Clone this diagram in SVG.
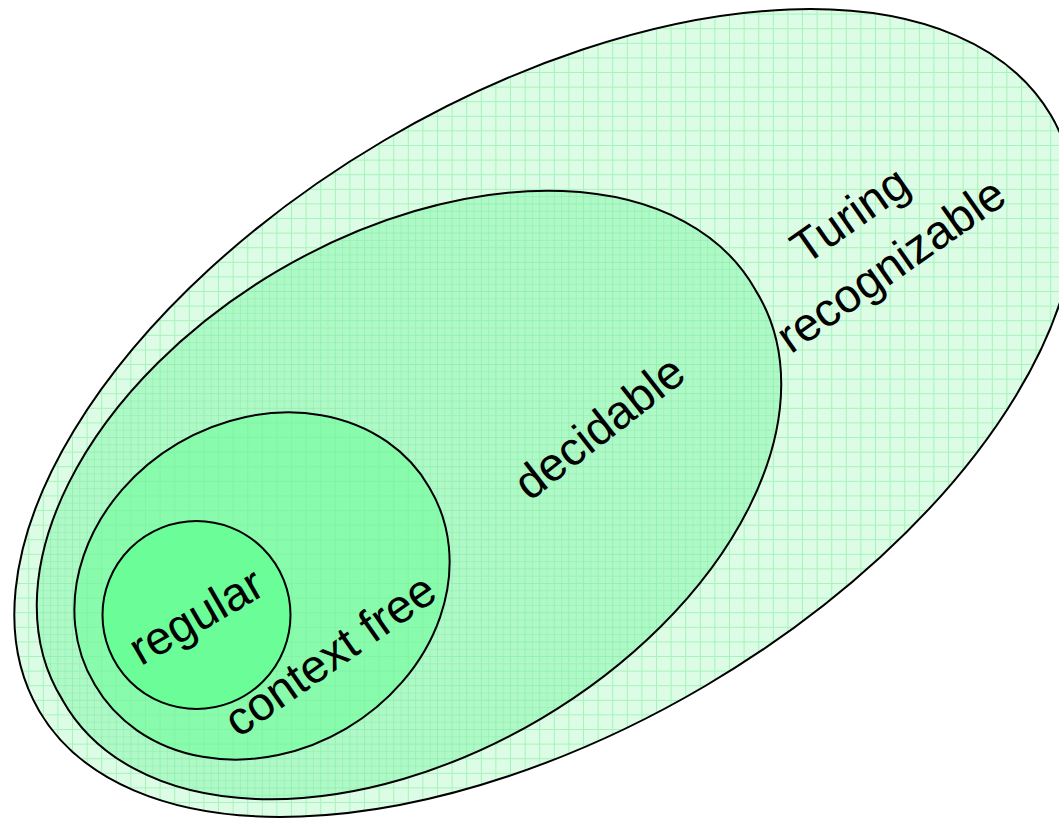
<svg xmlns="http://www.w3.org/2000/svg" width="1059" height="820" viewBox="0 0 1059 820">
  <style>
    .set { stroke: #000; stroke-width: 2; }
    .label { font-family: "Liberation Sans", Arial, sans-serif; font-size: 47px; fill: #000; text-anchor: middle; }
  </style>
  <defs>
    <!-- axis-aligned graph-paper texture -->
    <pattern id="grid" width="14.6" height="14.6" patternUnits="userSpaceOnUse">
      <path d="M14.1 0V14.6M0 14.1H14.6" stroke="#7fee9f" stroke-width="1" stroke-opacity="0.6" fill="none"/>
    </pattern>
    <pattern id="gridFine" width="14.6" height="14.6" patternUnits="userSpaceOnUse" patternTransform="translate(7.3 7.3)">
      <path d="M14.1 0V14.6M0 14.1H14.6" stroke="#7fee9f" stroke-width="1" stroke-opacity="0.45" fill="none"/>
    </pattern>
    <path id="outerShape" d="M39.2 710.9A587 316.5 -30.5 1 1 1050.8 115.1A587 316.5 -30.5 1 1 39.2 710.9Z"/>
    <path id="decShape" d="M62.5 699.9A402.6 255.7 -30.6 1 1 755.5 290.1A402.6 255.7 -30.6 1 1 62.5 699.9Z"/>
    <path id="cfShape" d="M94.7 684.6A194.2 164.3 -30.5 1 1 429.3 487.4A194.2 164.3 -30.5 1 1 94.7 684.6Z"/>
  </defs>

  <!-- Turing recognizable -->
  <g id="turing-recognizable">
    <use href="#outerShape" fill="#dcfce5"/>
    <use href="#outerShape" fill="url(#grid)" class="set"/>
    <text class="label" transform="translate(859 228) rotate(-35)">Turing</text>
    <text class="label" transform="translate(900 278) rotate(-35)">recognizable</text>
  </g>

  <!-- decidable -->
  <g id="decidable">
    <use href="#decShape" fill="#b0f8c8"/>
    <use href="#decShape" fill="url(#gridFine)"/>
    <use href="#decShape" fill="url(#grid)" class="set"/>
    <text class="label" transform="translate(609 440) rotate(-38)">decidable</text>
  </g>

  <!-- context free -->
  <g id="context-free">
    <use href="#cfShape" fill="#88fbac"/>
    <use href="#cfShape" fill="url(#grid)" class="set"/>
    <text class="label" transform="translate(339 668) rotate(-35)">context free</text>
  </g>

  <!-- regular -->
  <g id="regular">
    <circle cx="196.5" cy="615" r="94" fill="#6bfd98" class="set"/>
    <text class="label" transform="translate(204 630) rotate(-30)">regular</text>
  </g>

  <g id="connectors"/>
</svg>
